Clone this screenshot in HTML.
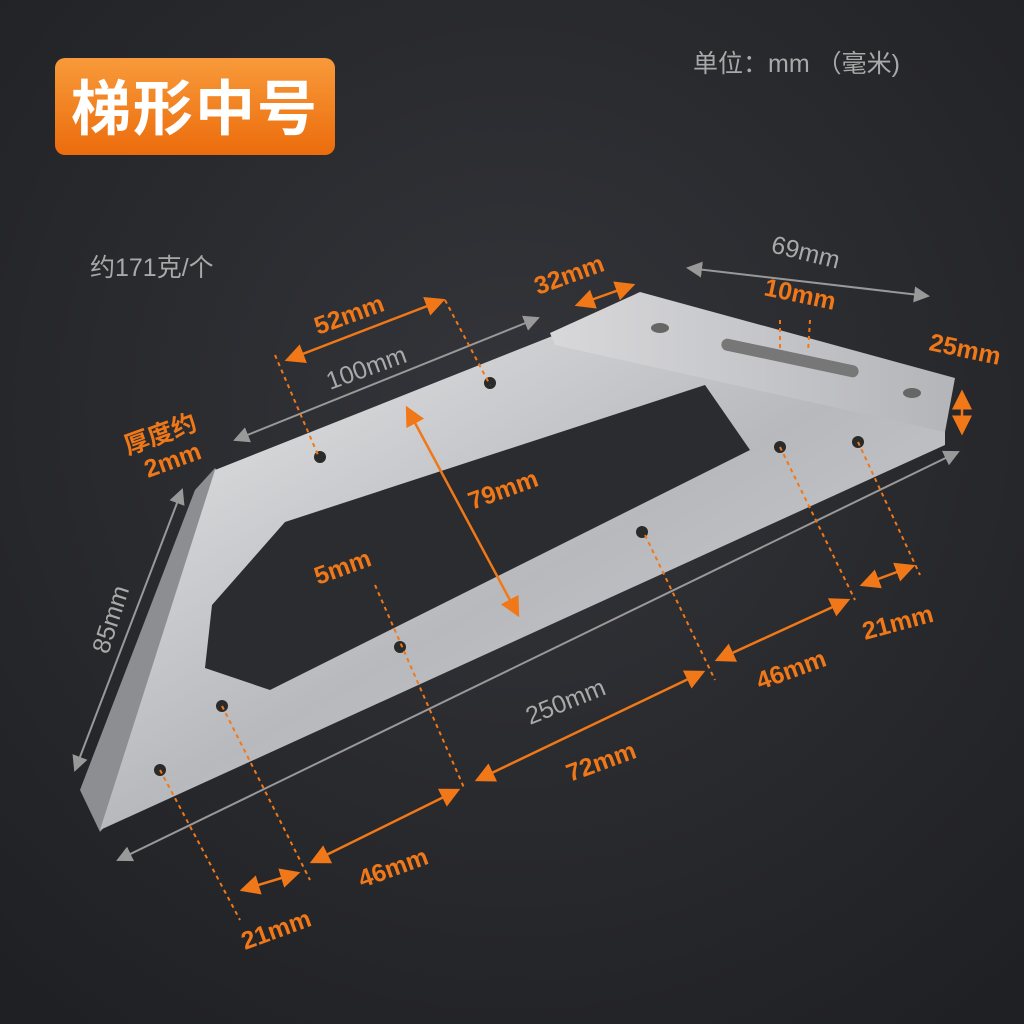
<!DOCTYPE html>
<html><head><meta charset="utf-8"><style>
html,body{margin:0;padding:0;width:1024px;height:1024px;overflow:hidden;background:#2a2b2e}
svg{display:block}
text{font-family:"Liberation Sans","Noto Sans CJK SC",sans-serif}
.o{fill:#f07818;font-weight:bold;font-size:25px}
.g{fill:#a9a9a9;font-size:25px}
</style></head><body>
<svg width="1024" height="1024" viewBox="0 0 1024 1024" xmlns="http://www.w3.org/2000/svg">
<defs>
<radialGradient id="bg" cx="50%" cy="40%" r="75%"><stop offset="0" stop-color="#34353a"/><stop offset="1" stop-color="#1f2023"/></radialGradient>
<linearGradient id="met" x1="0" y1="0" x2="1" y2="1"><stop offset="0" stop-color="#e8e8ea"/><stop offset="0.5" stop-color="#b8b9bd"/><stop offset="1" stop-color="#d2d3d6"/></linearGradient>
<linearGradient id="fl" x1="0" y1="0" x2="1" y2="0"><stop offset="0" stop-color="#d8d8db"/><stop offset="1" stop-color="#b4b5b9"/></linearGradient>
<linearGradient id="or" x1="0" y1="0" x2="0" y2="1"><stop offset="0" stop-color="#f89a3a"/><stop offset="1" stop-color="#ec6c0c"/></linearGradient>
<marker id="ao" markerWidth="8" markerHeight="8" refX="7" refY="4" orient="auto-start-reverse"><path d="M0,0 L8,4 L0,8z" fill="#f07818"/></marker>
<marker id="ag" markerWidth="8" markerHeight="8" refX="7" refY="4" orient="auto-start-reverse"><path d="M0,0 L8,4 L0,8z" fill="#999"/></marker>
</defs>
<rect width="1024" height="1024" fill="url(#bg)"/>
<rect x="55" y="58" width="280" height="97" rx="10" fill="url(#or)"/>
<text x="195" y="130" text-anchor="middle" fill="#fff" font-size="60" font-weight="bold" letter-spacing="2">梯形中号</text>
<text x="693" y="72" class="g" font-size="26">单位：mm （毫米)</text>
<text x="90" y="276" class="g" font-size="28">约171克/个</text>

<polygon points="80,790 195,490 215,468 232,488 118,812 100,832" fill="#8d8e92"/>
<polygon points="215,470 555,335 945,430 945,445 100,830" fill="url(#met)"/>
<polygon points="550,333 640,292 955,378 945,432 555,345" fill="url(#fl)"/>
<polygon points="205,668 212,605 285,522 705,385 750,450 270,690" fill="#2b2c2f"/>
<g fill="#2a2a2a">
<circle cx="320" cy="457" r="6"/><circle cx="490" cy="383" r="6"/><circle cx="642" cy="532" r="6"/>
<circle cx="400" cy="647" r="6"/><circle cx="222" cy="706" r="6"/><circle cx="160" cy="770" r="6"/>
<circle cx="780" cy="447" r="6"/><circle cx="858" cy="442" r="6"/>
<ellipse cx="660" cy="328" rx="9" ry="5" fill="#666"/><ellipse cx="912" cy="393" rx="9" ry="5" fill="#666"/>
<rect x="720" y="352" width="140" height="12" rx="6" transform="rotate(12 790 358)" fill="#777"/>
</g>

<g stroke="#999" stroke-width="2" fill="none">
<line x1="235" y1="440" x2="538" y2="318" marker-start="url(#ag)" marker-end="url(#ag)"/>
<line x1="118" y1="860" x2="958" y2="452" marker-start="url(#ag)" marker-end="url(#ag)"/>
<line x1="75" y1="770" x2="182" y2="490" marker-start="url(#ag)" marker-end="url(#ag)"/>
<line x1="688" y1="268" x2="928" y2="296" marker-start="url(#ag)" marker-end="url(#ag)"/>
</g>
<g stroke="#f07818" stroke-width="2.5" fill="none">
<line x1="287" y1="360" x2="443" y2="300" marker-start="url(#ao)" marker-end="url(#ao)"/>
<line x1="577" y1="305" x2="633" y2="285" marker-start="url(#ao)" marker-end="url(#ao)"/>
<line x1="407" y1="408" x2="518" y2="615" marker-start="url(#ao)" marker-end="url(#ao)"/>
<line x1="962" y1="392" x2="962" y2="433" marker-start="url(#ao)" marker-end="url(#ao)"/>
<line x1="312" y1="862" x2="458" y2="790" marker-start="url(#ao)" marker-end="url(#ao)"/>
<line x1="242" y1="890" x2="298" y2="873" marker-start="url(#ao)" marker-end="url(#ao)"/>
<line x1="477" y1="780" x2="703" y2="672" marker-start="url(#ao)" marker-end="url(#ao)"/>
<line x1="717" y1="660" x2="848" y2="600" marker-start="url(#ao)" marker-end="url(#ao)"/>
<line x1="862" y1="585" x2="913" y2="566" marker-start="url(#ao)" marker-end="url(#ao)"/>
</g>
<g stroke="#f07818" stroke-width="2" stroke-dasharray="4,4" fill="none">
<line x1="275" y1="355" x2="318" y2="455"/><line x1="445" y1="300" x2="490" y2="385"/>
<line x1="222" y1="706" x2="310" y2="880"/><line x1="160" y1="770" x2="240" y2="920"/>
<line x1="375" y1="585" x2="465" y2="790"/><line x1="645" y1="535" x2="715" y2="680"/>
<line x1="780" y1="447" x2="855" y2="600"/><line x1="858" y1="442" x2="920" y2="575"/>
<line x1="780" y1="320" x2="780" y2="352"/><line x1="810" y1="320" x2="808" y2="352"/>
</g>

<text class="o" transform="translate(318,335) rotate(-20)">52mm</text>
<text class="g" transform="translate(330,390) rotate(-20)">100mm</text>
<text class="o" transform="translate(538,295) rotate(-20)">32mm</text>
<text class="g" transform="translate(770,252) rotate(14)">69mm</text>
<text class="o" transform="translate(763,295) rotate(12)">10mm</text>
<text class="o" transform="translate(928,350) rotate(12)">25mm</text>
<text class="o" transform="translate(128,455) rotate(-20)" font-size="22">厚度约</text>
<text class="o" transform="translate(148,478) rotate(-20)" font-size="22">2mm</text>
<text class="o" transform="translate(472,510) rotate(-20)">79mm</text>
<text class="o" transform="translate(318,585) rotate(-20)">5mm</text>
<text class="g" transform="translate(108,655) rotate(-72)">85mm</text>
<text class="g" transform="translate(530,725) rotate(-22)">250mm</text>
<text class="o" transform="translate(865,640) rotate(-15)">21mm</text>
<text class="o" transform="translate(760,690) rotate(-20)">46mm</text>
<text class="o" transform="translate(570,782) rotate(-20)">72mm</text>
<text class="o" transform="translate(362,888) rotate(-20)">46mm</text>
<text class="o" transform="translate(245,950) rotate(-20)">21mm</text>
</svg>
</body></html>
